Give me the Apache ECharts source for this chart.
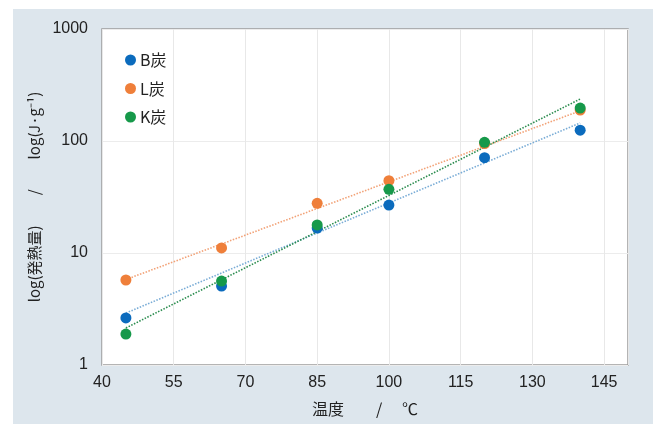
<!DOCTYPE html>
<html>
<head>
<meta charset="utf-8">
<script src="https://cdn.jsdelivr.net/npm/echarts@6/dist/echarts.min.js"></script>
<style>
html,body{margin:0;padding:0;background:#fff;}
#c{width:657px;height:424px;}
</style>
</head>
<body>
<div id="c"></div>
<script>
// ---- data ----
var temps = [45, 65, 85, 100, 120, 140];
var seriesNames = ['B炭', 'L炭', 'K炭'];
var valuesB = [2.63, 5.07, 16.7, 26.8, 71, 125];
var valuesL = [5.74, 11.1, 27.8, 44.2, 95, 189];
var valuesK = [1.89, 5.62, 17.8, 37.0, 97.3, 197];
// trend line end points: [temp, value]
var trendB = [[45, 2.91], [140, 145]];
var trendL = [[45, 5.8], [140, 186]];
var trendK = [[45, 2.14], [140, 237]];
var xTickStart = 40, xTickEnd = 150, xTickStep = 15;
var yTicks = [1, 10, 100, 1000];

var dotColors = ['#0b6bbd', '#ef7f3a', '#16994a'];
var trendColors = ['#79acd6', '#f2a277', '#2a8c4e'];

function pts(vals) { return temps.map(function (t, i) { return [t - xTickStart, vals[i]]; }); }
function tpts(tr) { return tr.map(function (p) { return [p[0] - xTickStart, p[1]]; }); }

var fontLat = '"Liberation Sans", Arial, "Noto Sans CJK JP", sans-serif';
var fontCJK = '"Noto Sans CJK JP", "Liberation Sans", sans-serif';

var chart = echarts.init(document.getElementById('c'));
var vals = [valuesB, valuesL, valuesK];
var trends = [trendB, trendL, trendK];
var series = [];
for (var i = 0; i < 3; i++) {
  series.push({
    name: seriesNames[i] + '_trend',
    type: 'line',
    data: tpts(trends[i]),
    symbol: 'none',
    silent: true,
    z: 2,
    lineStyle: { color: trendColors[i], width: 1.6, type: [1.5, 1.5] }
  });
}
for (var j = 0; j < 3; j++) {
  series.push({
    name: seriesNames[j],
    type: 'scatter',
    data: pts(vals[j]),
    symbolSize: 11,
    z: 3,
    itemStyle: { color: dotColors[j], opacity: 1 }
  });
}

chart.setOption({
  backgroundColor: '#ffffff',
  animation: false,
  graphic: [{
    type: 'rect',
    shape: { x: 13, y: 9, width: 640, height: 420 },
    style: { fill: '#dde6ed' },
    z: -10,
    silent: true
  }],
  grid: {
    left: 102, right: 29, top: 29, bottom: 59,
    show: true,
    backgroundColor: '#ffffff',
    borderColor: '#9c9c9c',
    borderWidth: 1.5
  },
  legend: {
    data: seriesNames,
    orient: 'vertical',
    left: 120, top: 47,
    itemWidth: 11, itemHeight: 11,
    itemGap: 12.5,
    icon: 'circle',
    textStyle: { fontFamily: fontCJK, fontSize: 16, color: '#222', padding: [0, 0, 0, -1] }
  },
  xAxis: {
    type: 'value',
    min: 0,
    max: xTickEnd - xTickStart,
    interval: xTickStep,
    name: '温度　　/ 　℃',
    nameLocation: 'middle',
    nameGap: 36,
    nameTextStyle: { fontFamily: fontCJK, fontSize: 16, color: '#222' },
    axisLine: { show: false },
    axisTick: { show: false },
    axisLabel: {
      margin: 10,
      fontFamily: fontLat, fontSize: 16, color: '#222',
      showMaxLabel: false,
      formatter: function (v) { return String(v + xTickStart); }
    },
    splitLine: { show: true, lineStyle: { color: '#e8e8e8', width: 1 } }
  },
  yAxis: {
    type: 'log',
    logBase: 10,
    min: yTicks[0],
    max: yTicks[yTicks.length - 1],
    name: 'log(発熱量)　　/　　log(J·g⁻¹)',
    nameLocation: 'middle',
    nameRotate: 90,
    nameGap: 50,
    nameTextStyle: { fontFamily: fontCJK, fontSize: 15, color: '#222' },
    axisLine: { show: false },
    axisTick: { show: false },
    axisLabel: {
      margin: 14,
      fontFamily: fontLat, fontSize: 16, color: '#222',
      formatter: function (v) { return String(v); }
    },
    splitLine: { show: true, lineStyle: { color: '#ececec', width: 1 } }
  },
  series: series
});
</script>
</body>
</html>
